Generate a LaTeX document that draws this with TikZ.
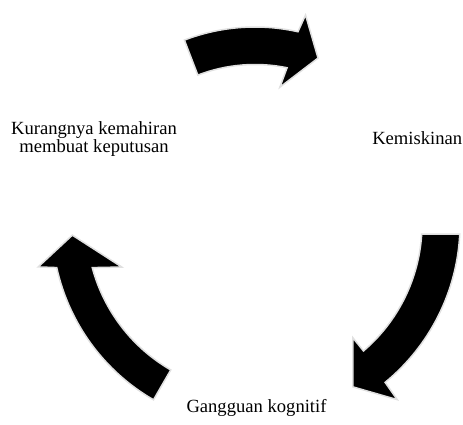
\documentclass[tikz,border=0pt]{standalone}
\usepackage{fontspec}
\setmainfont{Liberation Serif}
\tikzset{
  cyclearrow/.style={fill=black,draw=black!12,line width=1.5pt,line join=miter},
  teks/.style={font=\fontsize{18.6}{18}\selectfont,inner sep=0pt}
}
\begin{document}
\begin{tikzpicture}[x=1pt,y=1pt]
\useasboundingbox (0,0) rectangle (463,425);
\coordinate (pusat) at (255,201);
\begin{scope}[shift={(pusat)}]
\draw[cyclearrow] (111:159.5) arc[start angle=111,end angle=78.4,radius=159.5] -- (79.7:139) -- (69.2:177.5) -- (76.4:215) -- (77.4:197) arc[start angle=77.4,end angle=111,radius=197] -- cycle;
\draw[cyclearrow] (-3.5:167) arc[start angle=-3.5,end angle=-49.5,radius=167] -- (-49.3:150) -- (-59:190) -- (-51:226) -- (-50.6:205) arc[start angle=-50.6,end angle=-2.8,radius=205] -- cycle;
\draw[cyclearrow] (240:168.5) arc[start angle=240,end angle=195,radius=168.5] -- (197.9:140) -- (183.5:183) -- (191.2:221) -- (192.4:203) arc[start angle=192.4,end angle=240,radius=203] -- cycle;
\end{scope}
\node[teks,anchor=base] (miskin) at (417.2,280.7) {Kemiskinan};
\node[teks,anchor=base] (kognitif) at (256.5,12) {Gangguan kognitif};
\node[teks,align=center,anchor=base] (kurang) at (94,272.7) {Kurangnya kemahiran\\membuat keputusan};
\end{tikzpicture}
\end{document}
